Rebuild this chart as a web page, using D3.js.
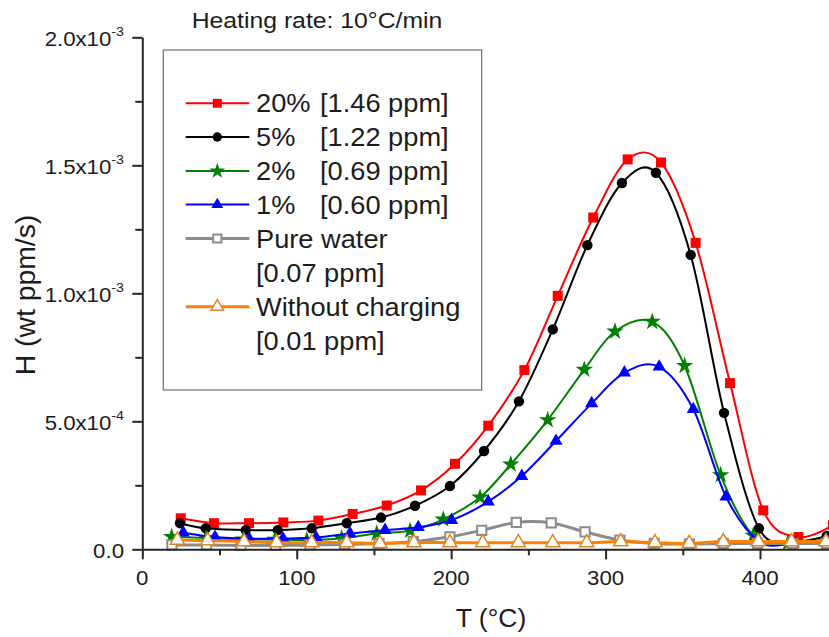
<!DOCTYPE html>
<html>
<head>
<meta charset="utf-8">
<script src="https://cdn.jsdelivr.net/npm/d3@7"></script>
<style>
  html, body { margin: 0; padding: 0; background: #fff; }
  svg { display: block; font-family: "Liberation Sans", Arial, sans-serif; }
</style>
</head>
<body>
<svg id="chart" width="829" height="637"></svg>
<script>
// Hydrogen desorption rate H (units of 1e-4 wt ppm/s) against temperature T (°C)
const t20 = [24.9, 46.4, 69.1, 91.3, 114.0, 136.2, 158.3, 180.5, 202.5, 224.0, 247.4, 269.0, 292.0, 314.3, 335.9, 358.3, 380.6, 402.1, 424.9, 447.3];
const h20 = [1.21, 1.02, 1.02, 1.05, 1.12, 1.38, 1.71, 2.30, 3.34, 4.83, 7.00, 9.90, 12.96, 15.23, 15.11, 11.97, 6.49, 1.52, 0.48, 0.95];

const t5 = [24.4, 41.1, 67.0, 87.7, 109.7, 132.4, 154.6, 176.6, 199.2, 221.3, 243.9, 265.8, 288.2, 310.6, 332.6, 355.1, 376.7, 399.3, 421.4, 443.2];
const h5 = [1.02, 0.82, 0.75, 0.75, 0.82, 1.02, 1.24, 1.70, 2.47, 3.84, 5.78, 8.59, 11.88, 14.31, 14.71, 11.50, 5.33, 0.82, 0.32, 0.52];

const t2 = [19.0, 41.2, 65.4, 85.9, 106.5, 129.1, 151.8, 173.4, 194.9, 218.7, 238.6, 262.5, 286.2, 306.1, 330.2, 351.2, 374.5, 395.6, 418.1, 442.7];
const h2 = [0.49, 0.44, 0.39, 0.38, 0.36, 0.43, 0.62, 0.73, 1.17, 2.03, 3.32, 5.05, 7.02, 8.51, 8.89, 7.17, 2.90, 0.54, 0.25, 0.28];

const t1 = [26.5, 47.1, 69.1, 91.1, 112.5, 134.5, 157.2, 178.7, 200.3, 224.0, 245.7, 267.9, 291.0, 312.2, 334.7, 356.8, 378.0, 399.7, 421.4, 443.4];
const h1 = [0.65, 0.48, 0.42, 0.42, 0.46, 0.62, 0.75, 0.86, 1.14, 1.86, 2.86, 4.23, 5.70, 6.90, 7.13, 5.47, 2.05, 0.30, 0.21, 0.25];

const tWater = [19.2, 41.6, 63.9, 86.3, 108.6, 130.9, 153.3, 175.5, 199.2, 219.8, 242.2, 264.8, 286.7, 309.3, 331.5, 354.2, 376.2, 398.5, 421.2, 443.2];
const hWater = [0.17, 0.17, 0.15, 0.15, 0.17, 0.19, 0.23, 0.30, 0.49, 0.74, 1.05, 1.03, 0.68, 0.36, 0.23, 0.21, 0.23, 0.23, 0.23, 0.23];

const tNone = [22.7, 42.3, 65.9, 87.0, 109.7, 132.4, 153.9, 175.9, 199.2, 220.4, 243.5, 265.8, 287.8, 309.8, 332.0, 354.2, 376.2, 398.9, 420.5, 442.7];
const hNone = [0.36, 0.34, 0.30, 0.26, 0.26, 0.26, 0.23, 0.26, 0.26, 0.26, 0.26, 0.26, 0.26, 0.30, 0.26, 0.23, 0.30, 0.30, 0.30, 0.30];

const H_UNIT = 1e-4;

const seriesNames = ["20%", "5%", "2%", "1%", "Pure water", "Without charging"];
const seriesAmounts = ["[1.46 ppm]", "[1.22 ppm]", "[0.69 ppm]", "[0.60 ppm]", "[0.07 ppm]", "[0.01 ppm]"];

const xTicks = [0, 100, 200, 300, 400];
const xMinorTicks = [50, 150, 250, 350];
const yTicks = [0, 5e-4, 1e-3, 1.5e-3, 2e-3];
const yTickMantissa = ["0.0", "5.0x10", "1.0x10", "1.5x10", "2.0x10"];
const yTickExponent = ["", "-4", "-3", "-3", "-3"];
const yMinorTicks = [2.5e-4, 7.5e-4, 1.25e-3, 1.75e-3];

const titleText = "Heating rate: 10°C/min";
const xTitle = "T (°C)";
const yTitle = "H (wt ppm/s)";

// ---- styles per series ----
const styles = [
  { color: "#ff0000", width: 2, symbol: d3.symbolSquare, size: 100, fill: "#ff0000", sw: 0 },
  { color: "#000000", width: 2, symbol: d3.symbolCircle, size: 85, fill: "#000000", sw: 0 },
  { color: "#008000", width: 2, symbol: d3.symbolStar, size: 95, fill: "#008000", sw: 0 },
  { color: "#0000ff", width: 2, symbol: d3.symbolTriangle, size: 75, fill: "#0000ff", sw: 0 },
  { color: "#8c8c8c", width: 3, symbol: d3.symbolSquare, size: 85, fill: "#ffffff", sw: 2 },
  { color: "#ff8000", width: 3, symbol: d3.symbolTriangle, size: 85, fill: "#ffffff", sw: 1.5, stroke: "#e0862a" }
];

const seriesT = [t20, t5, t2, t1, tWater, tNone];
const seriesH = [h20, h5, h2, h1, hWater, hNone];

const series = seriesNames.map((name, i) => ({
  name, amount: seriesAmounts[i], style: styles[i],
  points: seriesT[i].map((t, j) => ({ t, h: seriesH[i][j] * H_UNIT }))
}));

const svg = d3.select("#chart");
const INK = "#1c1c1c";
const AXIS = "#262626";

const x = d3.scaleLinear().domain([0, 445]).range([142.3, 829.5]);
const y = d3.scaleLinear().domain([0, 2e-3]).range([549.3, 37.3]);

// text with slight horizontal widening of the glyphs
function stretchedText(parent, px, py, size, sx, anchor) {
  return parent.append("text")
    .attr("transform", `translate(${px},${py}) scale(${sx},1)`)
    .attr("font-size", size)
    .attr("fill", INK)
    .attr("text-anchor", anchor || "start");
}

// ---- data ----
const line = d3.line()
  .x(d => x(d.t))
  .y(d => y(d.h))
  .curve(d3.curveCatmullRom.alpha(0));

const plot = svg.append("g");
series.forEach(s => {
  const g = plot.append("g");
  g.append("path")
    .datum(s.points)
    .attr("d", line)
    .attr("fill", "none")
    .attr("stroke", s.style.color)
    .attr("stroke-width", s.style.width)
    .attr("stroke-linejoin", "round");
  g.selectAll("path.m")
    .data(s.points)
    .join("path")
    .attr("class", "m")
    .attr("transform", d => `translate(${x(d.t)},${y(d.h)})`)
    .attr("d", d3.symbol().type(s.style.symbol).size(s.style.size))
    .attr("fill", s.style.fill)
    .attr("stroke", s.style.sw ? (s.style.stroke || s.style.color) : "none")
    .attr("stroke-width", s.style.sw);
});

// ---- axes ----
const xAxis = svg.append("g")
  .attr("transform", `translate(0,${y(0)})`)
  .call(d3.axisBottom(x).tickValues(xTicks).tickSize(10).tickSizeOuter(0).tickFormat(""));
const xMinor = svg.append("g")
  .attr("transform", `translate(0,${y(0)})`)
  .call(d3.axisBottom(x).tickValues(xMinorTicks).tickSize(6).tickSizeOuter(0).tickFormat(""));
xMinor.select(".domain").remove();

const yAxis = svg.append("g")
  .attr("transform", `translate(${x(0)},0)`)
  .call(d3.axisLeft(y).tickValues(yTicks).tickSize(10).tickSizeOuter(0).tickFormat(""));
const yMinor = svg.append("g")
  .attr("transform", `translate(${x(0)},0)`)
  .call(d3.axisLeft(y).tickValues(yMinorTicks).tickSize(7).tickSizeOuter(0).tickFormat(""));
yMinor.select(".domain").remove();

[xAxis, xMinor, yAxis, yMinor].forEach(a => {
  a.selectAll(".domain, line").attr("stroke", AXIS).attr("stroke-width", 2);
  a.selectAll("text").remove();
});

// x tick labels
xTicks.forEach(v => {
  stretchedText(svg, x(v), 585, 19.5, 1.14, "middle").text(v);
});

// y tick labels with power-of-ten exponent
yTicks.forEach((v, i) => {
  const t = stretchedText(svg, 124, y(v) + 8.5, 19.5, 1.14, "end");
  t.append("tspan").text(yTickMantissa[i]);
  if (yTickExponent[i]) {
    t.append("tspan").attr("font-size", 12.5).attr("dy", -10).text(yTickExponent[i]);
  }
});

// axis titles
stretchedText(svg, 491, 626.7, 26.5, 1.0, "middle").text(xTitle);
svg.append("text")
  .attr("transform", `translate(35,295) rotate(-90) scale(1.05,1)`)
  .attr("font-size", 27)
  .attr("fill", INK)
  .attr("text-anchor", "middle")
  .text(yTitle);

// heading
stretchedText(svg, 317, 28, 22.5, 1.1, "middle").text(titleText);

// ---- legend ----
const legend = svg.append("g");
legend.append("rect")
  .attr("x", 163.3).attr("y", 50)
  .attr("width", 481.7 - 163.3).attr("height", 390 - 50)
  .attr("fill", "#fff")
  .attr("stroke", "#6e6e6e")
  .attr("stroke-width", 1.2);

const rowY = [103.3, 137, 171, 204.5, 238.5, 306.7];
const amountX = 320;
series.forEach((s, i) => {
  const cy = rowY[i];
  legend.append("line")
    .attr("x1", 185.7).attr("x2", 249.3)
    .attr("y1", cy).attr("y2", cy)
    .attr("stroke", s.style.color)
    .attr("stroke-width", s.style.width);
  legend.append("path")
    .attr("transform", `translate(217.3,${cy})`)
    .attr("d", d3.symbol().type(s.style.symbol).size(s.style.size * 0.8))
    .attr("fill", s.style.fill)
    .attr("stroke", s.style.sw ? (s.style.stroke || s.style.color) : "none")
    .attr("stroke-width", s.style.sw);
  if (i < 4) {
    const t = stretchedText(legend, 256, cy + 9, 25, 1.09);
    t.append("tspan").text(s.name);
    t.append("tspan").attr("x", (amountX - 256) / 1.09).text(s.amount);
  } else {
    stretchedText(legend, 256, cy + 9, 25, 1.09).text(s.name);
    stretchedText(legend, 256, cy + 9 + 34, 25, 1.09).text(s.amount);
  }
});
</script>
</body>
</html>
